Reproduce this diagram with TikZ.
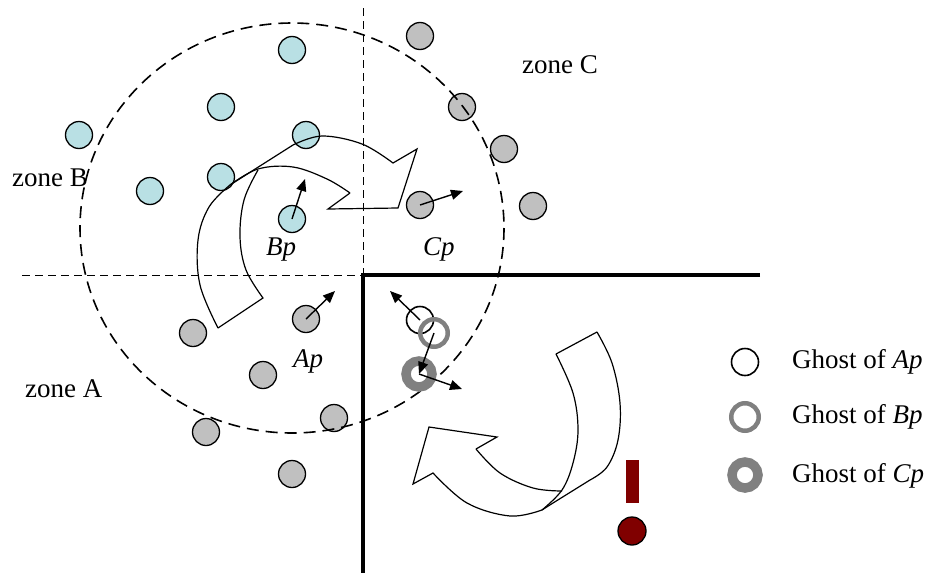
\documentclass[tikz,border=0pt]{standalone}
\usepackage{fontspec}
\setmainfont{Liberation Serif}
\usetikzlibrary{arrows.meta}
\definecolor{lblue}{RGB}{185,224,228}
\definecolor{lgray}{RGB}{192,192,192}
\definecolor{ggray}{RGB}{128,128,128}
\definecolor{dred}{RGB}{128,0,0}
\begin{document}
\begin{tikzpicture}[x=1pt,y=-1pt,
  part/.style={circle,draw=black,line width=1.3pt,minimum size=27pt,inner sep=0pt},
  bpart/.style={part,fill=lblue},
  gpart/.style={part,fill=lgray},
  ghostA/.style={circle,draw=black,line width=1.6pt,minimum size=27pt,inner sep=0pt},
  ghostB/.style={circle,draw=ggray,line width=4.5pt,minimum size=27.5pt,inner sep=0pt},
  ghostC/.style={circle,draw=ggray,line width=9.5pt,minimum size=26pt,inner sep=0pt},
  vec/.style={line width=1.4pt,-{Triangle[length=12pt,width=10pt]}},
  ribbon/.style={line width=1.2pt,line join=miter},
  lbl/.style={font=\fontsize{27}{30}\selectfont,inner sep=0pt},
  zonedash/.style={line width=1pt,dash pattern=on 8pt off 5pt},
  circdash/.style={line width=1.6pt,dash pattern=on 12pt off 7pt},
  wall/.style={line width=3.6pt}
]
\useasboundingbox (0,0) rectangle (934,573);

% zone A/B/C particles
\node[bpart] (b1) at (292,50) {};
\node[bpart] (b2) at (221,107) {};
\node[bpart] (b3) at (79,135) {};
\node[bpart] (b4) at (306,135) {};
\node[bpart] (b5) at (221,177) {};
\node[bpart] (b6) at (150,191) {};
\node[bpart] (bp) at (292,219) {};

\node[gpart] (c1) at (420,36) {};
\node[gpart] (c2) at (462,107) {};
\node[gpart] (c3) at (504,149) {};
\node[gpart] (c4) at (533,206) {};
\node[gpart] (cp) at (420,205) {};

\node[gpart] (a1) at (193,333) {};
\node[gpart] (ap) at (306,319) {};
\node[gpart] (a2) at (263,375) {};
\node[gpart] (a3) at (334,418) {};
\node[gpart] (a4) at (206,432) {};
\node[gpart] (a5) at (292,474) {};

% cut-off circle
\draw[circdash] (292,228) ellipse [x radius=212, y radius=205];

% zone separators
\coordinate (o) at (363,275);
\coordinate (vtop) at (363,8);
\coordinate (hleft) at (22,275);
\coordinate (hright) at (760,275);
\coordinate (vbot) at (363,573);
\draw[zonedash] (vtop) -- (o);
\draw[zonedash] (hleft) -- (o);
\draw[wall] (hright) -- (o) -- (vbot);

% velocity arrows
\coordinate (bpt) at (305,179);
\coordinate (cpt) at (463,191);
\coordinate (apt) at (335,291);
\draw[vec] (bp.center) -- (bpt);
\draw[vec] (cp.center) -- (cpt);
\draw[vec] (ap.center) -- (apt);

% ghosts
\node[ghostA] (ga) at (420,320) {};
\node[ghostB] (gb) at (434,333) {};
\node[ghostC] (gc) at (419,374) {};
\coordinate (gat) at (390,291);
\coordinate (gct) at (462,389);
\draw[vec] (ga.center) -- (gat);
\draw[vec] (gb.center) -- (gc.center);
\draw[vec] (gc.center) -- (gct);

% upper curved block arrow
\draw[ribbon] plot[smooth,tension=0.6] coordinates {(218,328) (200,285) (198,240) (209,207) (230,185)}
  -- (293,145) plot[smooth,tension=0.6] coordinates {(293,145) (322,136) (362,144) (393,163)}
  -- (417,149) -- (398,208) -- (328,209) -- (350,193);
\draw[ribbon] plot[smooth,tension=0.6] coordinates {(350,193) (327,179) (293,167) (258,169) (230,185)};
\draw[ribbon] plot[smooth,tension=0.6] coordinates {(258,170) (244,200) (240,237) (246,270) (263,298)} -- (218,328);

% lower curved block arrow
\draw[ribbon] (556,354) -- (597,332) plot[smooth,tension=0.6] coordinates {(597,332) (612,363) (620,403) (618,440) (607,467) (590,480)}
  -- (553,503) -- (542,510);
\draw[ribbon] plot[smooth,tension=0.6] coordinates {(542,510) (510,516) (467,503) (433,473)}
  -- (413,484) -- (429,427) -- (497,437) -- (476,449);
\draw[ribbon] plot[smooth,tension=0.6] coordinates {(476,449) (500,473) (533,488) (562,491)};
\draw[ribbon] plot[smooth,tension=0.6] coordinates {(556,354) (573,393) (578,430) (573,463) (562,490) (542,510)};

% red marker
\node[draw=none,fill=dred,minimum width=13pt,minimum height=43pt,inner sep=0pt] (bar) at (632.5,481.5) {};
\node[part,fill=dred,minimum size=28pt] (dot) at (632,531) {};

% legend
\node[ghostA] (la) at (745,362) {};
\node[ghostB] (lb) at (745,417) {};
\node[ghostC] (lc) at (745,475) {};
\node[lbl,anchor=base west] (ta) at (792,368) {Ghost of \textit{Ap}};
\node[lbl,anchor=base west] (tb) at (792,423) {Ghost of \textit{Bp}};
\node[lbl,anchor=base west] (tc) at (792,482) {Ghost of \textit{Cp}};

% labels
\node[lbl,anchor=base west] (zb) at (12,186) {zone B};
\node[lbl,anchor=base west] (zc) at (522,73) {zone C};
\node[lbl,anchor=base west] (za) at (25,397) {zone A};
\node[lbl,anchor=base west] (lbp) at (266,255) {\textit{Bp}};
\node[lbl,anchor=base west] (lcp) at (423,255) {\textit{Cp}};
\node[lbl,anchor=base west] (lap) at (293,367) {\textit{Ap}};
\end{tikzpicture}
\end{document}
